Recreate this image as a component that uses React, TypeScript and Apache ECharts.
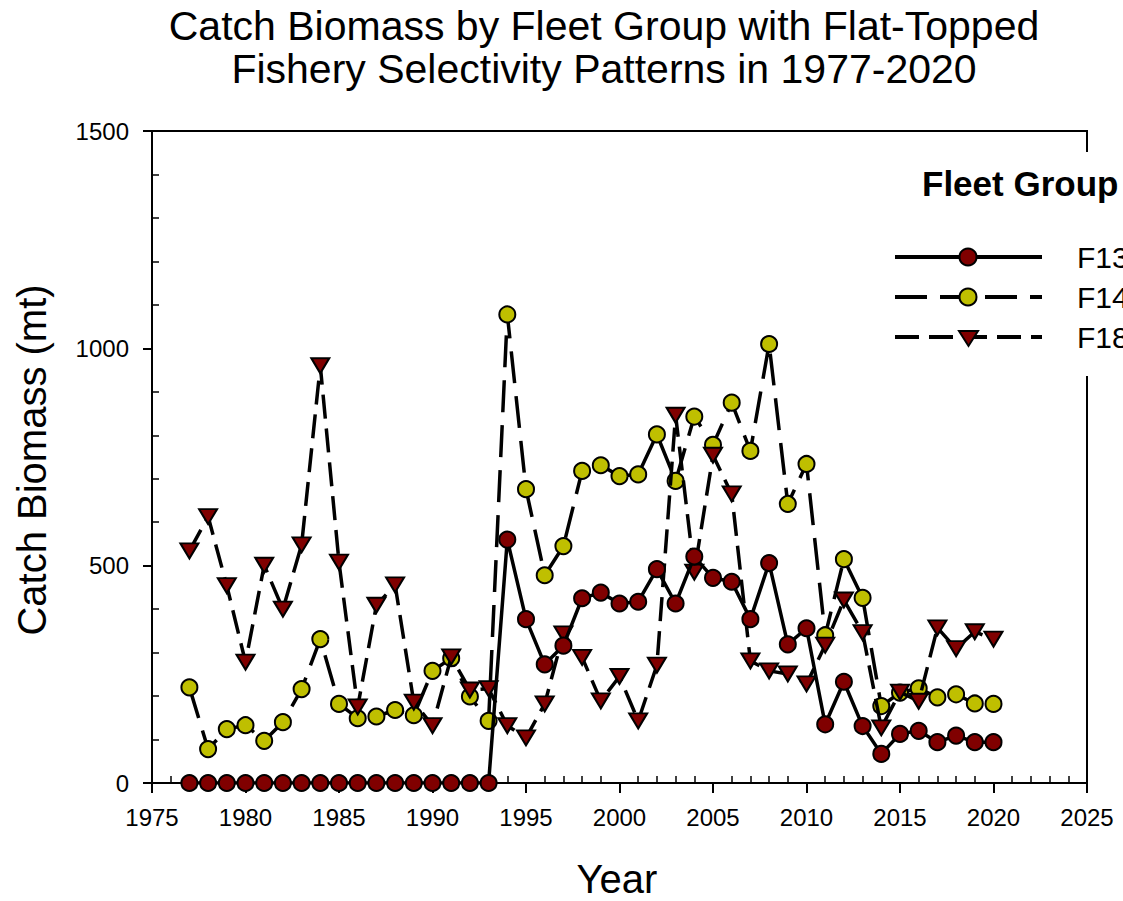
import React, { useEffect, useRef } from "react";
import * as echarts from "echarts";

const years = [
  1977, 1978, 1979, 1980, 1981, 1982, 1983, 1984, 1985, 1986, 1987, 1988, 1989, 1990, 1991,
  1992, 1993, 1994, 1995, 1996, 1997, 1998, 1999, 2000, 2001, 2002, 2003, 2004, 2005, 2006,
  2007, 2008, 2009, 2010, 2011, 2012, 2013, 2014, 2015, 2016, 2017, 2018, 2019, 2020,
];

const f13 = [
  0, 0, 0, 0, 0, 0, 0, 0, 0, 0, 0, 0, 0, 0, 0, 0, 0,
  560, 377, 273, 316, 425, 438, 413, 417, 492, 413, 521, 472, 463, 377, 506,
  319, 356, 135, 233, 131, 67, 113, 120, 94, 109, 94, 94,
];

const f14 = [
  220, 78, 124, 133, 97, 140, 216, 331, 182, 149, 153, 168, 156, 258, 287, 199, 143,
  1078, 676, 478, 545, 718, 731, 706, 710, 802, 695, 843, 778, 875, 764, 1010,
  642, 734, 340, 515, 426, 177, 208, 218, 197, 204, 183, 182,
];

const f18 = [
  534, 613, 454, 278, 501, 400, 548, 960, 508, 175, 409, 456, 186, 132, 290, 214, 217,
  132, 104, 182, 343, 289, 189, 245, 143, 271, 846, 485, 754, 665, 281, 258,
  251, 228, 317, 421, 346, 127, 209, 188, 357, 309, 348, 331,
];

const seriesNames = ["F13", "F14", "F18"];
const xTicks = { min: 1975, max: 2025, step: 5 };
const yTicks = { min: 0, max: 1500, step: 500 };

const RED = "#800000";
const YEL = "#BFBF00";
const FONT = 'Arial, "Liberation Sans", sans-serif';
const DASH14 = [32, 13];
const DASH18 = [24, 10];

const pairs = (vals: number[]) => years.map((y, i) => [y, vals[i]]);

export default function App() {
  const ref = useRef<HTMLDivElement>(null);
  useEffect(() => {
    document.body.style.margin = "0";
    const chart = echarts.init(ref.current!, null, { renderer: "svg" });
    const legendRows = [
      { y: 257, name: seriesNames[0], dash: "solid" as any },
      { y: 297, name: seriesNames[1], dash: DASH14 },
      { y: 337, name: seriesNames[2], dash: DASH18 },
    ];
    const graphic: any[] = [
      { type: "text", x: 604, y: 26, z: 100, style: { text: "Catch Biomass by Fleet Group with Flat-Topped", font: `41px ${FONT}`, fill: "#000", align: "center", verticalAlign: "middle" } },
      { type: "text", x: 604, y: 69, z: 100, style: { text: "Fishery Selectivity Patterns in 1977-2020", font: `41px ${FONT}`, fill: "#000", align: "center", verticalAlign: "middle" } },
      { type: "text", x: 32, y: 460, rotation: Math.PI / 2, z: 100, style: { text: "Catch Biomass (mt)", font: `40px ${FONT}`, fill: "#000", align: "center", verticalAlign: "middle" } },
      { type: "text", x: 617, y: 879, z: 100, style: { text: "Year", font: `40px ${FONT}`, fill: "#000", align: "center", verticalAlign: "middle" } },
      { type: "rect", z: 100, shape: { x: 888, y: 152, width: 240, height: 224 }, style: { fill: "#fff" } },
      { type: "text", x: 922, y: 183, z: 101, style: { text: "Fleet Group", font: `bold 35px ${FONT}`, fill: "#000", align: "left", verticalAlign: "middle" } },
    ];
    legendRows.forEach((r, i) => {
      graphic.push({ type: "line", z: 101, shape: { x1: 895, y1: r.y, x2: 1042, y2: r.y }, style: { stroke: "#000", lineWidth: 4, lineDash: r.dash === "solid" ? null : r.dash } });
      if (i === 0) graphic.push({ type: "circle", z: 102, shape: { cx: 968, cy: r.y, r: 8.5 }, style: { fill: RED, stroke: "#000", lineWidth: 2 } });
      if (i === 1) graphic.push({ type: "circle", z: 102, shape: { cx: 968, cy: r.y, r: 8.5 }, style: { fill: YEL, stroke: "#000", lineWidth: 2 } });
      if (i === 2) graphic.push({ type: "polygon", z: 102, shape: { points: [[959, r.y - 6], [978, r.y - 6], [968.5, r.y + 9]] }, style: { fill: RED, stroke: "#000", lineWidth: 2 } });
      graphic.push({ type: "text", x: 1077, y: r.y, z: 101, style: { text: r.name, font: `30px ${FONT}`, fill: "#000", align: "left", verticalAlign: "middle" } });
    });

    const axisCommon = {
      type: "value",
      axisLine: { show: true, lineStyle: { color: "#000", width: 2 } },
      axisLabel: { color: "#000", fontSize: 24, fontFamily: FONT, formatter: (v: number) => String(v) },
      splitLine: { show: false },
      minorSplitLine: { show: false },
    };

    chart.setOption({
      animation: false,
      backgroundColor: "#fff",
      grid: { left: 152, right: 36, top: 131, bottom: 118, show: true, borderColor: "#000", borderWidth: 2, backgroundColor: "transparent" },
      xAxis: {
        ...axisCommon,
        min: xTicks.min,
        max: xTicks.max,
        interval: xTicks.step,
        axisTick: { show: true, length: 10, lineStyle: { color: "#000", width: 2 } },
        minorTick: { show: true, splitNumber: 5, length: -7, lineStyle: { color: "#000", width: 1.5 } },
        axisLabel: { ...axisCommon.axisLabel, margin: 22 },
      },
      yAxis: {
        ...axisCommon,
        min: yTicks.min,
        max: yTicks.max,
        interval: yTicks.step,
        axisTick: { show: true, length: 9, lineStyle: { color: "#000", width: 2 } },
        minorTick: { show: true, splitNumber: 5, length: -7, lineStyle: { color: "#000", width: 1.5 } },
        axisLabel: { ...axisCommon.axisLabel, margin: 23 },
      },
      series: [
        {
          name: seriesNames[1], type: "line", data: pairs(f14), symbol: "circle", symbolSize: 16,
          itemStyle: { color: YEL, borderColor: "#000", borderWidth: 2 },
          lineStyle: { color: "#000", width: 3.5, type: DASH14 }, z: 2,
        },
        {
          name: seriesNames[2], type: "line", data: pairs(f18), symbol: "triangle", symbolRotate: 180, symbolSize: [18, 15],
          itemStyle: { color: RED, borderColor: "#000", borderWidth: 2 },
          lineStyle: { color: "#000", width: 3.5, type: DASH18 }, z: 3,
        },
        {
          name: seriesNames[0], type: "line", data: pairs(f13), symbol: "circle", symbolSize: 16,
          itemStyle: { color: RED, borderColor: "#000", borderWidth: 2 },
          lineStyle: { color: "#000", width: 3.5, type: "solid" }, z: 4,
        },
      ],
      graphic,
    });
    return () => chart.dispose();
  }, []);
  return <div ref={ref} style={{ width: 1123, height: 901 }} />;
}
